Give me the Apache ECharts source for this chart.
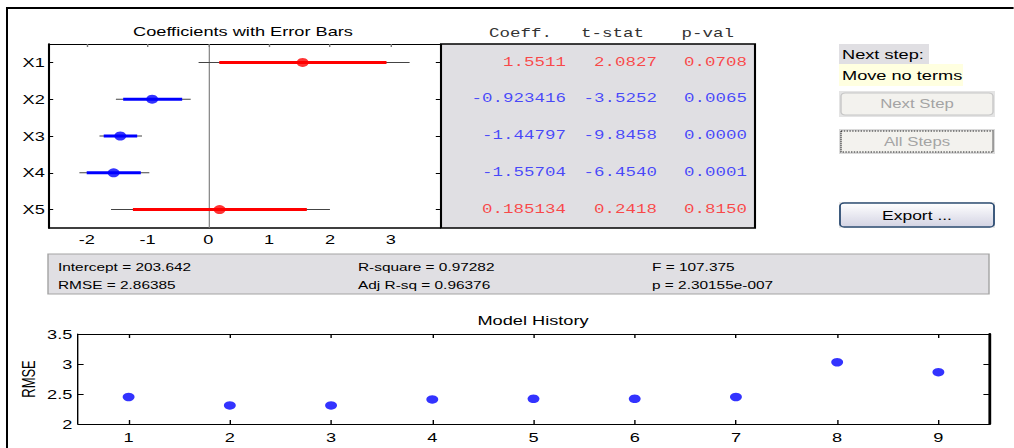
<!DOCTYPE html>
<html>
<head>
<meta charset="utf-8">
<title>Stepwise regression</title>
<script src="https://cdn.jsdelivr.net/npm/echarts@6/dist/echarts.min.js"></script>
<style>
  html, body { margin: 0; padding: 0; background: #fff; overflow: hidden; }
  #wrap { width: 1014px; height: 448px; overflow: hidden; }
  /* the whole figure is drawn narrower and widened horizontally */
  #chart { height: 448px; transform-origin: 0 0; }
</style>
</head>
<body>
<div id="wrap"><div id="chart"></div></div>
<script>
// ---- stepwise regression results ----
const terms    = ['X1', 'X2', 'X3', 'X4', 'X5'];
const coeff    = [1.5511, -0.923416, -1.44797, -1.55704, 0.185134];
const tStat    = [2.0827, -3.5252, -9.8458, -6.4540, 0.2418];
const pVal     = [0.0708, 0.0065, 0.0000, 0.0001, 0.8150];
const inModel  = [false, true, true, true, false];
// confidence bounds: thick = 90%, thin = 95%
const ci90Low  = [0.18, -1.40, -1.72, -2.00, -1.24];
const ci90High = [2.93, -0.43, -1.17, -1.11, 1.62];
const ci95Low  = [-0.16, -1.52, -1.79, -2.12, -1.60];
const ci95High = [3.31, -0.29, -1.09, -0.97, 2.00];
const coefTicks = [-2, -1, 0, 1, 2, 3];

// ---- model history ----
const historySteps = [1, 2, 3, 4, 5, 6, 7, 8, 9];
const historyRmse  = [2.45, 2.31, 2.31, 2.41, 2.42, 2.42, 2.45, 3.03, 2.86385];
const rmseTicks    = [2, 2.5, 3, 3.5];

// ---- summary statistics ----
const statLabels = ['Intercept', 'RMSE', 'R-square', 'Adj R-sq', 'F', 'p'];
const statValues = ['203.642', '2.86385', '0.97282', '0.96376', '107.375', '2.30155e-007'];
const tableHeaders = ['Coeff.', 't-stat', 'p-val'];

// ---- layout helpers ----
const S = 1.4;                       // horizontal widening of the whole figure
const hx = v => v / S;               // layout x values are written in widened pixels
const W = 1014, H = 448;
const el = document.getElementById('chart');
el.style.width = (W / S) + 'px';
el.style.transform = 'scaleX(' + S + ')';

const FONT = "'Liberation Sans', Arial, sans-serif";
const MONO = "'Liberation Mono', 'Courier New', monospace";
const RED = '#ff0000', BLUE = '#0000ff';
const termColor = i => inModel[i] ? BLUE : RED;
const termTextColor = i => inModel[i] ? '#1e1eff' : '#ff1e1e';

const fmtCoeff = v => String(parseFloat(v.toPrecision(6)));
const fmt4 = v => v.toFixed(4);

// table columns: text and right-edge anchor inside the table grid
const tableColumns = [
  { anchor: 125, text: coeff.map(fmtCoeff) },
  { anchor: 216, text: tStat.map(fmt4) },
  { anchor: 306, text: pVal.map(fmt4) }
];

function ciSeries(lo, hi, width, colorOf, z) {
  return {
    type: 'custom', xAxisIndex: 0, yAxisIndex: 0, z: z, silent: true,
    encode: { x: [0, 1], y: 2 },
    data: terms.map((t, i) => [lo[i], hi[i], i]),
    renderItem: (params, api) => {
      const i = api.value(2);
      const a = api.coord([api.value(0), i]);
      const b = api.coord([api.value(1), i]);
      return {
        type: 'line',
        shape: { x1: a[0], y1: a[1], x2: b[0], y2: b[1] },
        style: { stroke: colorOf(i), lineWidth: width }
      };
    }
  };
}

function txt(x, y, text, opts) {
  opts = opts || {};
  return {
    type: 'text', x: hx(x), y: y, silent: true, z: 10,
    style: {
      text: text, fill: opts.fill || '#000',
      font: (opts.size || 13) + 'px ' + (opts.family || FONT),
      align: opts.align || 'left', verticalAlign: 'middle'
    }
  };
}
function box(x, y, w, h, style, r) {
  return {
    type: 'rect', silent: true, z: 5,
    shape: { x: hx(x), y: y, width: hx(w), height: h, r: r || 0 },
    style: style
  };
}

const graphics = [
  // figure frame
  box(6, 7, W - 6, 2, { fill: '#000' }),
  box(6, 7, 2, H - 7, { fill: '#000' }),
  // titles
  txt(243, 31, 'Coefficients with Error Bars', { size: 13, align: 'center' }),
  txt(533, 320, 'Model History', { size: 13, align: 'center' }),
  // summary statistics panel
  box(48, 254, 941, 40, { fill: '#e0dfe3', stroke: '#a3a3a3', lineWidth: 1 }),
  // step controls
  box(839, 44, 90, 20, { fill: '#e0dfe3' }),
  txt(842, 54.5, 'Next step:', { size: 13 }),
  box(839, 64, 124, 22, { fill: '#ffffe0' }),
  txt(842, 75, 'Move no terms', { size: 13 }),
  box(839, 91, 156, 26, { fill: '#e4e4e4' }),
  box(841, 93, 152, 22, { fill: '#f3f2ee', stroke: '#c6c6c6', lineWidth: 1 }, 3),
  txt(917, 104, 'Next Step', { size: 12, fill: '#a4a4a4', align: 'center' }),
  box(839, 129, 156, 25, { fill: '#dadada' }),
  box(841, 131, 152, 21, { fill: '#f3f2ee', stroke: '#222', lineWidth: 1, lineDash: [1, 1] }),
  txt(917, 142, 'All Steps', { size: 12, fill: '#a4a4a4', align: 'center' }),
  box(839, 202, 156, 26, { fill: '#e6e6e6' }),
  box(840, 203, 154, 24, {
    fill: { type: 'linear', x: 0, y: 0, x2: 0, y2: 1,
            colorStops: [{ offset: 0, color: '#ffffff' }, { offset: 1, color: '#d3d3e3' }] },
    stroke: '#2e4d73', lineWidth: 1.3
  }, 3),
  txt(917, 215.5, 'Export ...', { size: 12.5, align: 'center' })
];

// summary statistics text, three columns of two rows
const statX = [58, 358, 652], statY = [267, 285];
statLabels.forEach((lab, k) => {
  graphics.push(txt(statX[Math.floor(k / 2)], statY[k % 2], lab + ' = ' + statValues[k], { size: 11 }));
});
// table headers
const headerRight = [552, 644, 734];
tableHeaders.forEach((h, k) => {
  graphics.push(txt(headerRight[k], 34, h, { size: 12.5, family: MONO, fill: '#333', align: 'right' }));
});

const chart = echarts.init(el, null, { renderer: 'svg' });

const axisText = { color: '#000', fontFamily: FONT, fontSize: 13 };

chart.setOption({
  animation: false,
  backgroundColor: '#fff',
  grid: [
    { left: hx(49), top: 44, width: hx(391), height: 184, containLabel: false, outerBoundsMode: 'none' },
    { left: hx(441), top: 44, width: hx(314), height: 184, containLabel: false, outerBoundsMode: 'none',
      show: true, backgroundColor: '#e0dfe3', borderColor: '#000', borderWidth: 1.5 },
    { left: hx(78), top: 334, width: hx(911), height: 90, containLabel: false, outerBoundsMode: 'none' }
  ],
  xAxis: [
    { gridIndex: 0, type: 'value', min: -2.62, max: 3.81, position: 'bottom',
      axisLine: { show: true, onZero: false, lineStyle: { color: '#000', width: 1.5 } },
      axisTick: { show: false }, splitLine: { show: false },
      axisLabel: Object.assign({ customValues: coefTicks, margin: 5 }, axisText) },
    { gridIndex: 0, type: 'value', min: -2.62, max: 3.81, position: 'top',
      axisLine: { show: true, onZero: false, lineStyle: { color: '#000', width: 1 } },
      axisTick: { show: true, inside: true, length: 3, customValues: coefTicks, lineStyle: { color: '#777' } },
      axisLabel: { show: false }, splitLine: { show: false } },
    { gridIndex: 1, type: 'value', min: 0, max: 314, show: false },
    { gridIndex: 2, type: 'value', min: 0.5, max: 9.5, position: 'bottom',
      axisLine: { show: true, onZero: false, lineStyle: { color: '#000', width: 1 } },
      axisTick: { show: true, inside: true, length: 4, customValues: historySteps, lineStyle: { color: '#000' } },
      axisLabel: Object.assign({ customValues: historySteps, margin: 7 }, axisText),
      splitLine: { show: false } },
    { gridIndex: 2, type: 'value', min: 0.5, max: 9.5, position: 'top',
      axisLine: { show: true, onZero: false, lineStyle: { color: '#000', width: 1 } },
      axisTick: { show: true, inside: true, length: 4, customValues: historySteps, lineStyle: { color: '#000' } },
      axisLabel: { show: false }, splitLine: { show: false } }
  ],
  yAxis: [
    { gridIndex: 0, type: 'category', data: terms, inverse: true, position: 'left',
      axisLine: { show: true, onZero: false, lineStyle: { color: '#000', width: 1.5 } },
      axisTick: { show: true, inside: true, length: 3, alignWithLabel: true, lineStyle: { color: '#000' } },
      axisLabel: Object.assign({ margin: 3 }, axisText), splitLine: { show: false } },
    { gridIndex: 0, type: 'category', data: terms, inverse: true, position: 'right',
      axisLine: { show: false, onZero: false },
      axisTick: { show: true, inside: true, length: 3, alignWithLabel: true, lineStyle: { color: '#000' } },
      axisLabel: { show: false }, splitLine: { show: false } },
    { gridIndex: 1, type: 'category', data: terms, inverse: true, show: false },
    { gridIndex: 2, type: 'value', min: 2, max: 3.5, interval: 0.5, position: 'left',
      axisLine: { show: true, onZero: false, lineStyle: { color: '#000', width: 1 } },
      axisTick: { show: true, inside: true, length: 4, lineStyle: { color: '#000' } },
      axisLabel: Object.assign({ margin: 4, customValues: rmseTicks }, axisText),
      splitLine: { show: false },
      name: 'RMSE', nameLocation: 'middle', nameRotate: 90, nameGap: 29, nameMoveOverlap: false,
      nameTextStyle: { color: '#000', fontFamily: FONT, fontSize: 13 } },
    { gridIndex: 2, type: 'value', min: 2, max: 3.5, interval: 0.5, position: 'right',
      axisLine: { show: true, onZero: false, lineStyle: { color: '#000', width: 2 } },
      axisTick: { show: true, inside: true, length: 4, lineStyle: { color: '#000' } },
      axisLabel: { show: false }, splitLine: { show: false } }
  ],
  series: [
    ciSeries(ci95Low, ci95High, 1, () => '#444', 2),
    ciSeries(ci90Low, ci90High, 3, termColor, 3),
    {
      type: 'scatter', xAxisIndex: 0, yAxisIndex: 0, z: 4, silent: true,
      symbol: 'circle', symbolSize: [8.5, 9],
      data: terms.map((t, i) => ({ value: [coeff[i], i], itemStyle: { color: termColor(i) } })),
      markLine: {
        silent: true, symbol: 'none', z: 1,
        label: { show: false },
        lineStyle: { color: '#7a7a7a', width: 0.8, type: 'solid' },
        data: [{ xAxis: 0 }]
      }
    }
  ].concat(tableColumns.map(col => ({
    type: 'scatter', xAxisIndex: 2, yAxisIndex: 2, silent: true, z: 6,
    symbolSize: 0.01, itemStyle: { color: 'rgba(0,0,0,0)' },
    data: col.text.map((s, i) => ({ value: [col.anchor, i], label: { color: termTextColor(i) } })),
    label: {
      show: true, position: 'left', distance: 0,
      fontFamily: MONO, fontSize: 12.5,
      formatter: p => col.text[p.dataIndex]
    }
  }))).concat([{
    type: 'scatter', xAxisIndex: 3, yAxisIndex: 3, silent: true,
    symbol: 'circle', symbolSize: [8.5, 8.5],
    itemStyle: { color: BLUE },
    data: historySteps.map((s, i) => [s, historyRmse[i]])
  }]),
  graphic: { elements: graphics }
});
</script>
</body>
</html>
